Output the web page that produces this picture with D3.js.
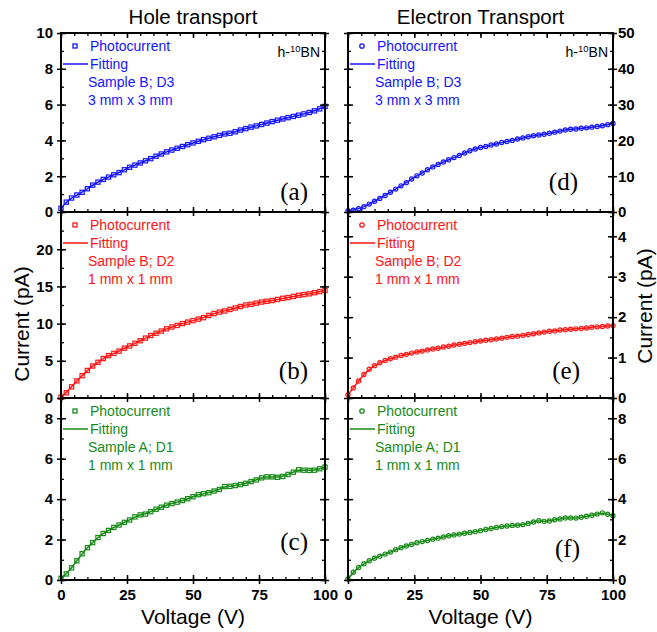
<!DOCTYPE html>
<html>
<head>
<meta charset="utf-8">
<script src="https://cdn.jsdelivr.net/npm/d3@7"></script>
<style>
  body { margin: 0; background: #fff; }
  text { font-family: "Liberation Sans", Arial, sans-serif; }
</style>
</head>
<body>
<div id="chart"></div>
<script>
// bias voltage (V), same grid for all six measurements
var voltage = [0, 2, 4, 6, 8, 10, 12, 14, 16, 18, 20, 22, 24, 26, 28, 30, 32, 34, 36, 38, 40,
               42, 44, 46, 48, 50, 52, 54, 56, 58, 60, 62, 64, 66, 68, 70, 72, 74, 76, 78, 80,
               82, 84, 86, 88, 90, 92, 94, 96, 98, 100];

// hole transport photocurrent (pA)
var holeB_D3 = [0.2, 0.55, 0.78, 0.95, 1.1, 1.3, 1.5, 1.67, 1.82, 1.95, 2.08, 2.2, 2.36, 2.5, 2.62, 2.74,
                2.86, 2.98, 3.12, 3.24, 3.36, 3.46, 3.56, 3.66, 3.76, 3.86, 3.95, 4.04, 4.12, 4.2, 4.28,
                4.36, 4.4, 4.48, 4.58, 4.66, 4.74, 4.81, 4.89, 4.97, 5.05, 5.13, 5.2, 5.27, 5.34, 5.41,
                5.48, 5.56, 5.65, 5.76, 5.9];
var holeB_D2 = [0.1, 0.7, 1.5, 2.3, 3.0, 3.7, 4.3, 4.8, 5.3, 5.7, 6.0, 6.3, 6.7, 7.0, 7.35, 7.7,
                8.05, 8.4, 8.7, 9.0, 9.3, 9.55, 9.75, 10.0, 10.2, 10.4, 10.6, 10.8, 11.1, 11.35, 11.55,
                11.7, 11.9, 12.1, 12.3, 12.5, 12.6, 12.75, 12.9, 13.0, 13.1, 13.25, 13.4, 13.5, 13.65,
                13.8, 13.9, 14.0, 14.15, 14.3, 14.45];
var holeA_D1 = [0.08, 0.3, 0.6, 0.95, 1.3, 1.6, 1.85, 2.1, 2.3, 2.45, 2.6, 2.72, 2.85, 2.97, 3.12, 3.22,
                3.26, 3.38, 3.5, 3.6, 3.7, 3.78, 3.85, 3.93, 4.02, 4.12, 4.22, 4.27, 4.32, 4.4, 4.48,
                4.62, 4.63, 4.67, 4.72, 4.78, 4.87, 4.95, 5.05, 5.1, 5.1, 5.08, 5.12, 5.22, 5.33, 5.45,
                5.43, 5.42, 5.43, 5.5, 5.58];

// electron transport photocurrent (pA)
var elecB_D3 = [0.3, 0.5, 0.9, 1.5, 2.2, 3.0, 3.8, 4.6, 5.5, 6.4, 7.3, 8.2, 9.2, 10.1, 10.9, 11.8,
                12.6, 13.3, 14.0, 14.6, 15.2, 15.8, 16.5, 17.1, 17.6, 18.0, 18.3, 18.7, 19.0, 19.4, 19.7,
                20.0, 20.4, 20.7, 21.0, 21.3, 21.5, 21.7, 22.0, 22.3, 22.6, 22.9, 23.1, 23.2, 23.4, 23.5,
                23.7, 23.9, 24.1, 24.4, 24.7];
var elecB_D2 = [0.08, 0.25, 0.42, 0.58, 0.71, 0.8, 0.87, 0.93, 0.97, 1.01, 1.05, 1.08, 1.11, 1.14, 1.16,
                1.19, 1.21, 1.23, 1.26, 1.28, 1.31, 1.33, 1.35, 1.37, 1.39, 1.41, 1.43, 1.44, 1.46, 1.48,
                1.5, 1.52, 1.53, 1.55, 1.57, 1.59, 1.61, 1.63, 1.65, 1.66, 1.68, 1.69, 1.7, 1.71, 1.72,
                1.73, 1.75, 1.76, 1.77, 1.78, 1.79];
var elecA_D1 = [0.05, 0.38, 0.62, 0.8, 0.95, 1.08, 1.18, 1.28, 1.38, 1.5, 1.6, 1.68, 1.76, 1.84, 1.9,
                1.95, 2.02, 2.07, 2.13, 2.19, 2.23, 2.27, 2.31, 2.35, 2.39, 2.44, 2.5, 2.55, 2.6, 2.64,
                2.67, 2.7, 2.71, 2.74, 2.8, 2.87, 2.93, 2.9, 2.92, 2.98, 3.02, 3.07, 3.07, 3.06, 3.1,
                3.15, 3.2, 3.26, 3.32, 3.25, 3.18];

// text and axis settings
var columnTitles = ["Hole transport", "Electron Transport"];
var panelLabels = [["(a)", "(b)", "(c)"], ["(d)", "(e)", "(f)"]];
var sampleNames = ["Sample B; D3", "Sample B; D2", "Sample A; D1"];
var sampleSizes = ["3 mm x 3 mm", "1 mm x 1 mm", "1 mm x 1 mm"];
var xTicks = [0, 25, 50, 75, 100];
var holeYMax = [10, 25, 9];
var elecYMax = [50, 4.6, 9];
var holeYTicks = [[0, 2, 4, 6, 8, 10], [0, 5, 10, 15, 20], [0, 2, 4, 6, 8]];
var elecYTicks = [[0, 10, 20, 30, 40, 50], [0, 1, 2, 3, 4], [0, 2, 4, 6, 8]];
var holeYMinor = [1, 2.5, 1];
var elecYMinor = [5, 0.5, 1];

function main()
{
    var W = 657, H = 632;
    var colors = ["#1414ff", "#ff1414", "#178a17"];
    var colX = [[61, 325], [348, 613]];
    var rowY = [[33, 212], [212, 398], [398, 580]];
    // where the (a)..(f) labels sit: [right edge offset, baseline offset] from bottom-right corner
    var labelPos = [[[17, 12], [17, 19], [17, 30]], [[35, 22], [33, 19], [33, 23]]];

    var svg = d3.select("#chart").append("svg")
        .attr("width", W)
        .attr("height", H);

    var columns = [
        {data: [holeB_D3, holeB_D2, holeA_D1], ymax: holeYMax, ticks: holeYTicks, minor: holeYMinor, marker: "square"},
        {data: [elecB_D3, elecB_D2, elecA_D1], ymax: elecYMax, ticks: elecYTicks, minor: elecYMinor, marker: "circle"}
    ];

    columns.forEach(function(col, c) {
        var x0 = colX[c][0], x1 = colX[c][1];
        var x = d3.scaleLinear().domain([0, 100]).range([x0, x1]);

        col.data.forEach(function(values, r) {
            var y0 = rowY[r][0], y1 = rowY[r][1];
            var y = d3.scaleLinear().domain([0, col.ymax[r]]).range([y1, y0]);
            var color = colors[r];
            var g = svg.append("g");
            var pts = voltage.map(function(v, i) { return [v, values[i]]; });

            // fitting line
            g.append("path")
                .datum(pts)
                .attr("fill", "none")
                .attr("stroke", color)
                .attr("stroke-width", 1.5)
                .attr("d", d3.line()
                    .curve(d3.curveBasis)
                    .x(function(d) { return x(d[0]); })
                    .y(function(d) { return y(d[1]); }));

            // photocurrent markers
            if (col.marker == "square") {
                g.selectAll("rect.pt").data(pts).enter().append("rect")
                    .attr("class", "pt")
                    .attr("x", function(d) { return x(d[0]) - 2.1; })
                    .attr("y", function(d) { return y(d[1]) - 2.1; })
                    .attr("width", 4.2).attr("height", 4.2)
                    .attr("fill", "none").attr("stroke", color).attr("stroke-width", 1.2);
            } else {
                g.selectAll("circle.pt").data(pts).enter().append("circle")
                    .attr("class", "pt")
                    .attr("cx", function(d) { return x(d[0]); })
                    .attr("cy", function(d) { return y(d[1]); })
                    .attr("r", 2.1)
                    .attr("fill", "none").attr("stroke", color).attr("stroke-width", 1.2);
            }

            // axes: major ticks cross the frame, minor ticks point inside
            var minorVals = d3.range(0, col.ymax[r] + 1e-6, col.minor[r]);
            var xMinor = d3.range(0, 101, 5);
            var leftLabels = (c == 0);

            addAxis(g, d3.axisLeft(y), x0, 0, col.ticks[r], minorVals, leftLabels, 8);
            addAxis(g, d3.axisRight(y), x1, 0, col.ticks[r], minorVals, !leftLabels, 5);
            addAxis(g, d3.axisBottom(x), 0, y1, xTicks, xMinor, r == 2, 9);
            if (r == 0) {
                addAxis(g, d3.axisTop(x), 0, y0, xTicks, xMinor, false, 0, true);
            }

            g.append("rect")
                .attr("x", x0).attr("y", y0)
                .attr("width", x1 - x0).attr("height", y1 - y0)
                .attr("fill", "none").attr("stroke", "#000").attr("stroke-width", 2);

            // legend
            var lx = x0, ly = y0;
            if (col.marker == "square") {
                g.append("rect").attr("x", lx + 14 - 2).attr("y", ly + 13 - 2).attr("width", 4).attr("height", 4)
                    .attr("fill", "none").attr("stroke", color).attr("stroke-width", 1.3);
            } else {
                g.append("circle").attr("cx", lx + 14).attr("cy", ly + 13).attr("r", 2.2)
                    .attr("fill", "none").attr("stroke", color).attr("stroke-width", 1.3);
            }
            g.append("line").attr("x1", lx + 2).attr("x2", lx + 27).attr("y1", ly + 31).attr("y2", ly + 31)
                .attr("stroke", color).attr("stroke-width", 1.5);
            var legendText = [["Photocurrent", 29, 18], ["Fitting", 29, 36],
                              [sampleNames[r], 27, 54], [sampleSizes[r], 27, 72]];
            legendText.forEach(function(t) {
                g.append("text").attr("x", lx + t[1]).attr("y", ly + t[2])
                    .attr("fill", color).style("font-size", "14px").text(t[0]);
            });

            if (r == 0) {
                var iso = g.append("text").attr("x", x1 - 5).attr("y", y0 + 24)
                    .attr("text-anchor", "end").style("font-size", "14px").attr("fill", "#000");
                iso.append("tspan").text("h-");
                iso.append("tspan").attr("dy", -5).style("font-size", "9.5px").text("10");
                iso.append("tspan").attr("dy", 5).text("BN");
            }

            g.append("text")
                .attr("x", x1 - labelPos[c][r][0]).attr("y", y1 - labelPos[c][r][1])
                .attr("text-anchor", "end")
                .style("font-family", "'Liberation Serif', 'Times New Roman', serif")
                .style("font-size", "25px")
                .text(panelLabels[c][r]);
        });

        svg.append("text")
            .attr("x", (x0 + x1) / 2 + 0).attr("y", 24)
            .attr("text-anchor", "middle").style("font-size", "20.5px")
            .text(columnTitles[c]);

        svg.append("text")
            .attr("x", (x0 + x1) / 2).attr("y", 624)
            .attr("text-anchor", "middle").style("font-size", "21px")
            .text("Voltage (V)");
    });

    svg.append("text")
        .attr("transform", "translate(29,324) rotate(-90)")
        .attr("text-anchor", "middle").style("font-size", "21px")
        .text("Current (pA)");
    svg.append("text")
        .attr("transform", "translate(652,306) rotate(-90)")
        .attr("text-anchor", "middle").style("font-size", "21px")
        .text("Current (pA)");
}

// one side of a panel frame
function addAxis(g, axis, tx, ty, majors, minors, showLabels, pad, inwardOnly)
{
    var gi = g.append("g").attr("transform", "translate(" + tx + "," + ty + ")");
    // minor, inside
    gi.append("g").call(axis.tickValues(minors).tickSize(-3).tickFormat(""))
        .call(function(s) { s.select(".domain").remove(); s.selectAll("line").attr("stroke-width", 1.3); });
    // major, inside (with labels)
    gi.append("g").call(axis.tickValues(majors).tickSize(-5).tickPadding(pad)
            .tickFormat(showLabels ? d3.format("") : ""))
        .call(function(s) {
            s.select(".domain").remove();
            s.selectAll("line").attr("stroke-width", 1.5);
            s.selectAll("text").style("font-size", "15px").style("font-weight", "bold")
                .style("font-family", "'Liberation Sans', Arial, sans-serif").attr("fill", "#000");
        });
    if (!inwardOnly) {
        // major, outside
        gi.append("g").call(axis.tickValues(majors).tickSize(4).tickFormat(""))
            .call(function(s) { s.select(".domain").remove(); s.selectAll("line").attr("stroke-width", 1.5); });
    }
}

main();
</script>
</body>
</html>
